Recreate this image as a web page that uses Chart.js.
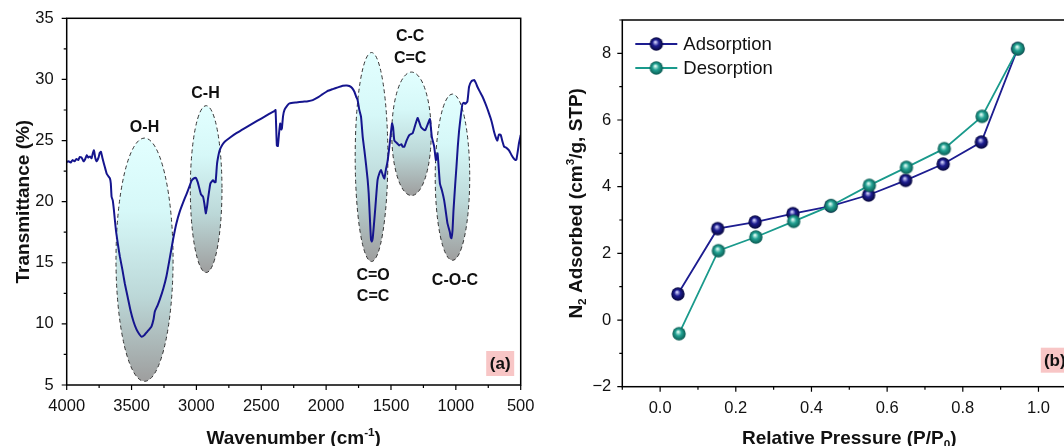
<!DOCTYPE html>
<html>
<head>
<meta charset="utf-8">
<script src="https://cdn.jsdelivr.net/npm/chart.js@4.4.0/dist/chart.umd.min.js"></script>
<style>
  html, body { margin: 0; padding: 0; background: #fff; overflow: hidden; width: 1064px; height: 446px; }
  #ftirChart { position: absolute; left: 0; top: 0; }
  #betChart { position: absolute; left: 540px; top: 0; }
</style>
</head>
<body>
<canvas id="ftirChart" width="540" height="446"></canvas>
<canvas id="betChart" width="560" height="446"></canvas>
<script>
// FTIR spectrum (wavenumber in cm-1, transmittance in %)
const wavenumber = [
  4000, 3985, 3970, 3955, 3940, 3925, 3911, 3900, 3885, 3870, 3859, 3845, 3834, 3820, 3808, 3800,
  3790, 3780, 3769, 3755, 3745, 3736, 3725, 3713, 3700, 3692, 3680, 3667, 3660, 3654, 3645, 3636,
  3621, 3605, 3590, 3570, 3552, 3530, 3508, 3485, 3462, 3440, 3423, 3400, 3380, 3360, 3346, 3330,
  3321, 3300, 3282, 3255, 3231, 3205, 3180, 3155, 3128, 3100, 3077, 3055, 3038, 3020, 3005, 2990,
  2980, 2965, 2949, 2938, 2928, 2918, 2911, 2900, 2892, 2872, 2860, 2852, 2841, 2830, 2821, 2800,
  2782, 2740, 2692, 2630, 2565, 2500, 2436, 2400, 2390, 2380, 2372, 2362, 2354, 2346, 2341, 2332,
  2321, 2300, 2282, 2230, 2180, 2140, 2103, 2060, 2026, 1990, 1949, 1910, 1872, 1840, 1821, 1800,
  1782, 1769, 1757, 1744, 1731, 1718, 1705, 1692, 1680, 1672, 1662, 1654, 1648, 1641, 1630, 1620,
  1610, 1603, 1590, 1577, 1564, 1551, 1538, 1528, 1518, 1505, 1492, 1484, 1474, 1455, 1436, 1420,
  1410, 1397, 1380, 1359, 1333, 1315, 1295, 1282, 1269, 1250, 1236, 1218, 1200, 1185, 1167, 1154,
  1141, 1123, 1108, 1090, 1075, 1064, 1046, 1040, 1034, 1026, 1018, 1005, 995, 985, 975, 962,
  949, 938, 928, 911, 898, 880, 859, 845, 834, 815, 795, 775, 757, 744, 731, 718,
  705, 690, 680, 668, 654, 640, 628, 610, 590, 570, 551, 540, 533, 520, 513, 500
];
const transmittance = [
  23.25, 23.3, 23.2, 23.4, 23.3, 23.5, 23.4, 23.65, 23.6, 23.3, 23.45, 23.8, 23.6, 23.7, 23.55, 23.9,
  24.2, 23.6, 23.3, 23.6, 24.0, 24.08, 23.6, 23.1, 22.6, 22.3, 22.1, 21.9, 21.5, 20.4, 20.1, 19.3,
  17.7, 16.5, 15.5, 14.4, 13.3, 12.2, 11.1, 10.2, 9.55, 9.15, 8.95, 9.1, 9.35, 9.6, 9.8, 10.4,
  11.0, 11.5, 12.0, 12.9, 13.9, 15.4, 16.9, 18.2, 19.2, 20.0, 20.6, 21.2, 21.7, 21.9, 21.95, 21.6,
  21.2, 20.6, 20.4, 19.8, 19.04, 19.6, 20.2, 21.0, 21.5, 21.75, 21.6, 21.6, 23.1, 23.8, 24.2, 24.65,
  24.9, 25.25, 25.6, 26.0, 26.4, 26.8, 27.2, 27.4, 27.5, 24.6, 24.55, 25.7, 26.4, 25.9, 26.0, 27.0,
  27.5, 27.85, 28.04, 28.12, 28.18, 28.22, 28.31, 28.55, 28.8, 29.05, 29.21, 29.35, 29.48, 29.5, 29.46, 29.3,
  28.99, 28.6, 28.3, 27.5, 26.95, 25.3, 24.2, 23.0, 21.8, 20.7, 18.5, 16.9, 16.75, 17.0, 18.3, 19.6,
  21.0, 21.8, 22.3, 22.6, 22.2, 21.9, 22.7, 23.2, 24.0, 25.2, 26.4, 26.1, 25.0, 24.8, 24.6, 24.7,
  24.5, 24.5, 25.0, 25.45, 25.6, 26.2, 26.85, 26.5, 26.1, 25.9, 25.85, 26.3, 26.75, 25.3, 24.5, 23.4,
  23.95, 21.5, 20.95, 20.1, 19.0, 18.2, 17.5, 17.1, 17.0, 17.6, 19.3, 21.4, 22.9, 24.5, 25.8, 27.0,
  28.0, 28.1, 28.0, 28.2, 29.4, 29.85, 29.95, 29.7, 29.4, 29.0, 28.6, 28.1, 27.6, 27.2, 26.8, 26.3,
  25.7, 25.2, 25.0, 25.5, 25.45, 24.9, 24.5, 24.4, 24.2, 23.8, 23.5, 23.4, 23.45, 24.3, 24.8, 25.45
];
const ftirXTicks = [4000, 3500, 3000, 2500, 2000, 1500, 1000, 500];
const ftirYTicks = [5, 10, 15, 20, 25, 30, 35];

// band assignments: centre wavenumber, half width, top and bottom transmittance
const bands = [
  { wn: 3400, half: 220, top: 25.2, bottom: 5.3 },
  { wn: 2925, half: 122, top: 27.85, bottom: 14.2 },
  { wn: 1650, half: 126, top: 32.2, bottom: 15.1 },
  { wn: 1342, half: 152, top: 30.6, bottom: 20.5 },
  { wn: 1026, half: 133, top: 28.8, bottom: 15.2 }
];
const bandLabels = [
  { text: 'O-H', wn: 3400, t: 26.05 },
  { text: 'C-H', wn: 2930, t: 28.87 },
  { text: 'C-C', wn: 1352, t: 33.5 },
  { text: 'C=C', wn: 1352, t: 31.73 },
  { text: 'C=O', wn: 1638, t: 13.91 },
  { text: 'C=C', wn: 1638, t: 12.22 },
  { text: 'C-O-C', wn: 1007, t: 13.58 }
];

// N2 isotherm
const adsPressure = [0.047, 0.152, 0.251, 0.351, 0.451, 0.551, 0.649, 0.748, 0.849, 0.945];
const adsorption = [0.78, 2.74, 2.94, 3.19, 3.42, 3.75, 4.19, 4.68, 5.34, 8.14];
const desPressure = [0.050, 0.154, 0.253, 0.353, 0.452, 0.553, 0.651, 0.751, 0.851, 0.946];
const desorption = [-0.41, 2.08, 2.49, 2.96, 3.43, 4.04, 4.58, 5.14, 6.11, 8.14];
const pressureTicks = [0, 0.2, 0.4, 0.6, 0.8, 1.0];
const uptakeTicks = [-2, 0, 2, 4, 6, 8];

const FONT = 'Arial, "Liberation Sans", sans-serif';
const INK = '#111';
const TITLE_SIZE = 19;

function toPoints(xs, ys) {
  return xs.map((x, i) => ({ x: x, y: ys[i] }));
}

function setTicks(values) {
  return scale => { scale.ticks = values.map(v => ({ value: v })); };
}

// fixed axis thickness; label overhang must not push the plot area around
function fixSize(prop, size) {
  return s => {
    s[prop] = size;
    s.paddingLeft = s.paddingRight = s.paddingTop = s.paddingBottom = 0;
  };
}

// text with sub/superscript pieces, centred at (cx, cy)
function drawRich(ctx, parts, cx, cy, size, angle) {
  ctx.save();
  ctx.translate(cx, cy);
  ctx.rotate(angle || 0);
  ctx.fillStyle = INK;
  ctx.textAlign = 'left';
  ctx.textBaseline = 'alphabetic';
  let total = 0;
  const widths = parts.map(([t, k]) => {
    ctx.font = `bold ${k ? size * 0.62 : size}px ${FONT}`;
    const w = ctx.measureText(t).width;
    total += w;
    return w;
  });
  let x = -total / 2;
  parts.forEach(([t, k], i) => {
    ctx.font = `bold ${k ? size * 0.62 : size}px ${FONT}`;
    const dy = k === 'sup' ? -size * 0.4 : k === 'sub' ? size * 0.22 : 0;
    ctx.fillText(t, x, size * 0.36 + dy);
    x += widths[i];
  });
  ctx.restore();
}

function drawTickMarks(ctx, scale, values, len, vertical) {
  const a = scale.chart.chartArea;
  ctx.beginPath();
  values.forEach(v => {
    const p = scale.getPixelForValue(v);
    if (vertical) {
      ctx.moveTo(a.left, p);
      ctx.lineTo(a.left - len, p);
    } else {
      ctx.moveTo(p, a.bottom);
      ctx.lineTo(p, a.bottom + len);
    }
  });
  ctx.stroke();
}

function drawTag(ctx, text, right, bottom) {
  const w = 28, h = 25;
  ctx.save();
  ctx.fillStyle = '#f8c6c6';
  ctx.fillRect(right - w, bottom - h, w, h);
  ctx.fillStyle = INK;
  ctx.font = `bold 17px ${FONT}`;
  ctx.textAlign = 'center';
  ctx.textBaseline = 'middle';
  ctx.fillText(text, right - w / 2, bottom - h / 2 + 1);
  ctx.restore();
}

function range(a, b, step) {
  const out = [];
  for (let v = a; v <= b + 1e-9; v += step) out.push(Math.round(v * 1000) / 1000);
  return out;
}

const tickFont = { family: FONT, size: 16.5 };

// ---------- FTIR panel ----------
const ftirDecor = {
  id: 'ftirDecor',
  beforeDatasetsDraw(chart) {
    const { ctx, scales: { x, y } } = chart;
    bands.forEach(b => {
      const cx = x.getPixelForValue(b.wn);
      const rx = Math.abs(x.getPixelForValue(b.wn - b.half) - cx);
      const top = y.getPixelForValue(b.top);
      const bottom = y.getPixelForValue(b.bottom);
      const cy = (top + bottom) / 2;
      const ry = (bottom - top) / 2;
      const g = ctx.createLinearGradient(0, top, 0, bottom);
      g.addColorStop(0, '#e2ffff');
      g.addColorStop(0.3, '#d6f8f8');
      g.addColorStop(0.65, '#bcd8d8');
      g.addColorStop(1, '#9e9e9e');
      ctx.save();
      ctx.beginPath();
      ctx.ellipse(cx, cy, rx, ry, 0, 0, Math.PI * 2);
      ctx.fillStyle = g;
      ctx.fill();
      ctx.setLineDash([4, 3]);
      ctx.strokeStyle = '#333';
      ctx.lineWidth = 1;
      ctx.stroke();
      ctx.restore();
    });
  },
  afterDraw(chart) {
    const { ctx, chartArea: a, scales: { x, y } } = chart;
    ctx.save();
    ctx.strokeStyle = '#000';
    ctx.lineWidth = 1.5;
    ctx.strokeRect(a.left, a.top, a.right - a.left, a.bottom - a.top);
    ctx.lineWidth = 1.2;
    drawTickMarks(ctx, x, ftirXTicks, 5, false);
    drawTickMarks(ctx, x, range(750, 3750, 500), 3, false);
    drawTickMarks(ctx, y, ftirYTicks, 5, true);
    drawTickMarks(ctx, y, range(7.5, 32.5, 5), 3, true);

    ctx.fillStyle = INK;
    ctx.font = `bold 16px ${FONT}`;
    ctx.textAlign = 'center';
    ctx.textBaseline = 'middle';
    bandLabels.forEach(l => {
      ctx.fillText(l.text, x.getPixelForValue(l.wn), y.getPixelForValue(l.t));
    });
    ctx.restore();

    drawTag(ctx, '(a)', a.right - 6.5, a.bottom - 9);
    drawRich(ctx, [['Wavenumber (cm', null], ['-1', 'sup'], [')', null]], (a.left + a.right) / 2, 437, TITLE_SIZE, 0);
    drawRich(ctx, [['Transmittance (%)', null]], 22, (a.top + a.bottom) / 2, TITLE_SIZE, -Math.PI / 2);
  }
};

new Chart(document.getElementById('ftirChart'), {
  type: 'line',
  data: {
    datasets: [{
      data: toPoints(wavenumber, transmittance),
      borderColor: '#15158e',
      borderWidth: 2,
      pointRadius: 0,
      tension: 0.15,
      fill: false
    }]
  },
  options: {
    responsive: false,
    animation: false,
    events: [],
    layout: { padding: { left: 0, right: 19.3, top: 18.3, bottom: 0 } },
    plugins: { legend: { display: false }, tooltip: { enabled: false } },
    scales: {
      x: {
        type: 'linear', reverse: true, min: 500, max: 4000,
        grid: { display: false, drawTicks: false },
        border: { display: false },
        afterBuildTicks: setTicks(ftirXTicks),
        ticks: { font: tickFont, color: INK, padding: 12, maxRotation: 0, autoSkip: false,
                 callback: v => String(v) },
        afterFit: fixSize('height', 61)
      },
      y: {
        type: 'linear', min: 5, max: 35,
        grid: { display: false, drawTicks: false },
        border: { display: false },
        afterBuildTicks: setTicks(ftirYTicks),
        ticks: { font: tickFont, color: INK, padding: 13, autoSkip: false },
        afterFit: fixSize('width', 66.7)
      }
    }
  },
  plugins: [ftirDecor]
});

// ---------- isotherm panel ----------
function makeBall(light, base, dark, r) {
  const c = document.createElement('canvas');
  const s = Math.ceil(r * 2 + 2);
  c.width = c.height = s;
  const g = c.getContext('2d');
  const cx = s / 2, cy = s / 2;
  const grad = g.createRadialGradient(cx - r * 0.15, cy - r * 0.3, r * 0.05, cx, cy, r);
  grad.addColorStop(0, light);
  grad.addColorStop(0.45, base);
  grad.addColorStop(1, dark);
  g.fillStyle = grad;
  g.beginPath();
  g.arc(cx, cy, r, 0, Math.PI * 2);
  g.fill();
  return c;
}

const navyBall = makeBall('#d6d6ff', '#1d1d90', '#06063c', 6.7);
const tealBall = makeBall('#e6fff8', '#22a293', '#0b5b52', 6.7);

const betDecor = {
  id: 'betDecor',
  afterDraw(chart) {
    const { ctx, chartArea: a, scales: { x, y } } = chart;
    ctx.save();
    ctx.strokeStyle = '#000';
    ctx.lineWidth = 1.5;
    ctx.strokeRect(a.left, a.top, a.right - a.left, a.bottom - a.top);
    ctx.lineWidth = 1.2;
    drawTickMarks(ctx, x, range(-0.1, 1.1, 0.2), 3, false);
    drawTickMarks(ctx, x, pressureTicks, 5, false);
    drawTickMarks(ctx, y, range(-1, 9, 2), 3, true);
    drawTickMarks(ctx, y, uptakeTicks, 5, true);

    // legend
    const entries = [['Adsorption', '#1d1d90', navyBall], ['Desorption', '#1a9a8c', tealBall]];
    entries.forEach(([label, color, ball], i) => {
      const ly = a.top + 24 + i * 24;
      const lx = a.left + 13;
      ctx.strokeStyle = color;
      ctx.lineWidth = 2;
      ctx.beginPath();
      ctx.moveTo(lx, ly);
      ctx.lineTo(lx + 42, ly);
      ctx.stroke();
      ctx.drawImage(ball, lx + 21 - ball.width / 2, ly - ball.height / 2);
      ctx.fillStyle = INK;
      ctx.font = `18.5px ${FONT}`;
      ctx.textAlign = 'left';
      ctx.textBaseline = 'middle';
      ctx.fillText(label, lx + 48, ly + 1);
    });
    ctx.restore();

    drawTag(ctx, '(b)', a.right - 7.5, a.bottom - 14);
    drawRich(ctx, [['Relative Pressure (P/P', null], ['0', 'sub'], [')', null]], (a.left + a.right) / 2, 437, TITLE_SIZE, 0);
    drawRich(ctx, [['N', null], ['2', 'sub'], [' Adsorbed (cm', null], ['3', 'sup'], ['/g, STP)', null]],
      35, (a.top + a.bottom) / 2, TITLE_SIZE, -Math.PI / 2);
  }
};

new Chart(document.getElementById('betChart'), {
  type: 'line',
  data: {
    datasets: [
      {
        label: 'Adsorption',
        data: toPoints(adsPressure, adsorption),
        borderColor: '#1d1d90',
        borderWidth: 1.8,
        pointStyle: navyBall,
        pointRadius: 7,
        order: 2
      },
      {
        label: 'Desorption',
        data: toPoints(desPressure, desorption),
        borderColor: '#1a9a8c',
        borderWidth: 1.8,
        pointStyle: tealBall,
        pointRadius: 7,
        order: 1
      }
    ]
  },
  options: {
    responsive: false,
    animation: false,
    events: [],
    layout: { padding: { left: 0, right: 23.7, top: 20, bottom: 0 } },
    plugins: { legend: { display: false }, tooltip: { enabled: false } },
    scales: {
      x: {
        type: 'linear', min: -0.1, max: 1.1,
        grid: { display: false, drawTicks: false },
        border: { display: false },
        afterBuildTicks: setTicks(pressureTicks),
        ticks: { font: tickFont, color: INK, padding: 12, maxRotation: 0, autoSkip: false,
                 callback: v => v.toFixed(1) },
        afterFit: fixSize('height', 59.3)
      },
      y: {
        type: 'linear', min: -2, max: 9,
        grid: { display: false, drawTicks: false },
        border: { display: false },
        afterBuildTicks: setTicks(uptakeTicks),
        ticks: { font: tickFont, color: INK, padding: 11, autoSkip: false,
                 callback: v => (v < 0 ? '\u2212' + Math.abs(v) : String(v)) },
        afterFit: fixSize('width', 82.3)
      }
    }
  },
  plugins: [betDecor]
});
</script>
</body>
</html>
